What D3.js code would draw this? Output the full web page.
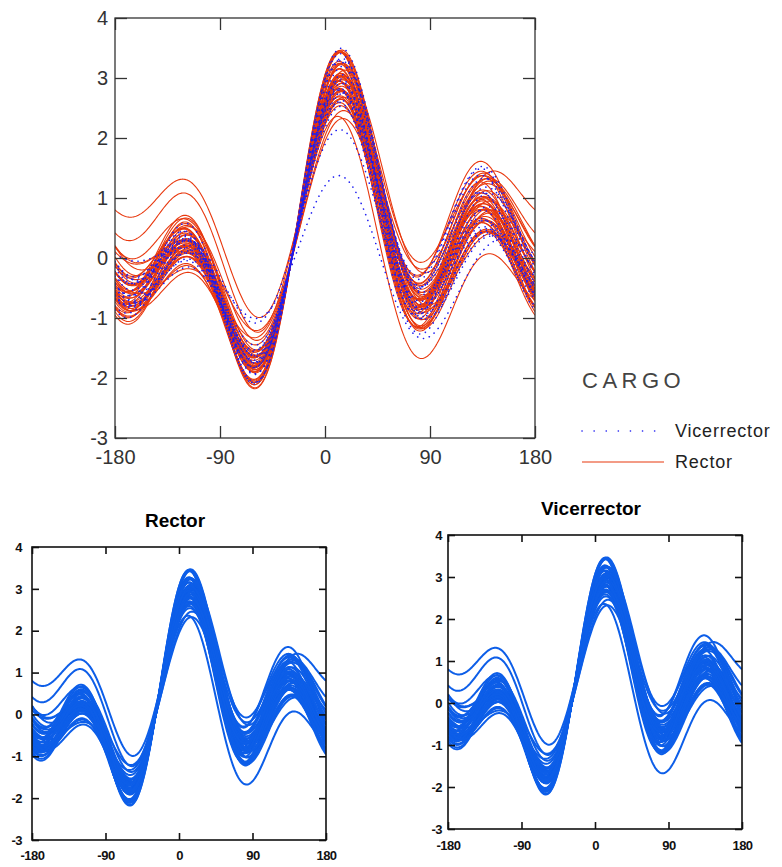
<!DOCTYPE html>
<html>
<head>
<meta charset="utf-8">
<script src="https://cdnjs.cloudflare.com/ajax/libs/d3/7.8.5/d3.min.js"></script>
<style>
  body { margin: 0; background: #fff; }
  svg { display: block; font-family: Arial, "Liberation Sans", sans-serif; }
</style>
</head>
<body>
<svg id="chart" width="782" height="867"></svg>
<script>
// Andrews curves: each row = 7 variables of one observation
// f(t) = x1/sqrt2 + x2 sin t + x3 cos t + x4 sin 2t + x5 cos 2t + x6 sin 3t + x7 cos 3t
var rectorRows = [
  [0.27, 0.58, 0.55, 0.41, 0.82, 0.57, 0.86],
  [0.18, 0.73, 0.73, 0.43, 0.86, 0.60, 0.80],
  [0.41, 0.59, 0.49, 0.45, 0.90, 0.63, 1.10],
  [0.20, 0.80, 0.72, 0.39, 0.78, 0.54, 0.87],
  [0.27, 0.47, 0.55, 0.47, 0.94, 0.66, 0.94],
  [0.21, 0.69, 0.69, 0.44, 0.89, 0.62, 1.18],
  [0.39, 0.41, 0.33, 0.38, 0.75, 0.52, 0.59],
  [0.25, 0.69, 0.71, 0.49, 0.98, 0.68, 1.13],
  [0.21, 0.32, 0.46, 0.42, 0.84, 0.58, 1.08],
  [0.65, 0.88, 0.47, 0.46, 0.92, 0.64, 0.71],
  [0.13, 0.57, 0.62, 0.37, 0.74, 0.51, 0.87],
  [0.28, 0.51, 0.53, 0.43, 0.87, 0.60, 0.76],
  [0.34, 0.84, 0.73, 0.48, 0.97, 0.67, 1.01],
  [0.65, 0.94, 0.45, 0.41, 0.82, 0.57, 0.81],
  [0.16, 0.26, 0.47, 0.43, 0.85, 0.59, 0.94],
  [0.41, 0.70, 0.57, 0.47, 0.93, 0.65, 1.26],
  [0.09, 0.49, 0.63, 0.39, 0.79, 0.55, 0.55],
  [0.68, 0.94, 0.47, 0.45, 0.90, 0.63, 1.13],
  [0.01, 0.51, 0.79, 0.48, 0.95, 0.66, 1.12],
  [0.63, 0.74, 0.32, 0.39, 0.77, 0.54, 0.69],
  [0.04, 0.36, 0.64, 0.44, 0.89, 0.62, 0.85],
  [0.15, 0.69, 0.73, 0.42, 0.84, 0.59, 1.11],
  [0.41, 0.63, 0.52, 0.46, 0.92, 0.64, 0.78],
  [0.11, 0.61, 0.78, 0.49, 0.98, 0.68, 0.93],
  [0.63, 0.81, 0.38, 0.40, 0.80, 0.56, 0.99],
  [0.29, 0.62, 0.59, 0.44, 0.88, 0.61, 0.97],
  [-0.01, 0.44, 0.74, 0.45, 0.89, 0.62, 0.96],
  [0.39, 0.65, 0.50, 0.41, 0.83, 0.58, 0.85],
  [0.22, 0.70, 0.68, 0.43, 0.86, 0.60, 0.98],
  [0.40, 0.58, 0.50, 0.46, 0.93, 0.64, 0.95],
  [0.04, 0.57, 0.71, 0.40, 0.80, 0.55, 0.95],
  [0.49, 0.77, 0.56, 0.48, 0.96, 0.67, 0.87],
  [0.07, 0.41, 0.64, 0.43, 0.87, 0.60, 1.07],
  [0.64, 0.81, 0.43, 0.46, 0.91, 0.63, 1.00],
  [0.05, 0.47, 0.66, 0.41, 0.81, 0.56, 0.77],
  [0.54, 0.93, 0.59, 0.47, 0.94, 0.66, 1.07],
  [0.05, 0.63, 0.80, 0.45, 0.89, 0.62, 0.72],
  [0.36, 0.47, 0.42, 0.42, 0.84, 0.58, 1.13],
  [0.26, 0.65, 0.67, 0.49, 0.98, 0.68, 1.22],
  [0.29, 0.79, 0.67, 0.43, 0.85, 0.59, 0.89],
  [0.98, 0.13, -0.05, 0.41, 0.82, 0.57, 0.76],
  [0.82, 0.28, 0.12, 0.41, 0.82, 0.57, 0.86],
  [-0.15, -0.10, 0.55, 0.41, 0.82, 0.57, 0.86],
  [0.06, 0.30, 0.55, 0.41, 0.82, 0.57, 0.86],
  [0.67, 0.58, 0.25, 0.41, 0.82, 0.57, 0.86]
];

var vicerrectorRows = [
  [0.20, 0.66, 0.67, 0.42, 0.84, 0.59, 0.94],
  [0.33, 0.51, 0.51, 0.45, 0.90, 0.63, 0.85],
  [0.06, 0.53, 0.67, 0.39, 0.78, 0.54, 1.02],
  [0.57, 0.83, 0.51, 0.47, 0.94, 0.66, 0.99],
  [0.05, 0.36, 0.60, 0.41, 0.82, 0.57, 0.71],
  [0.67, 0.90, 0.44, 0.44, 0.89, 0.62, 1.03],
  [0.17, 0.63, 0.63, 0.38, 0.75, 0.52, 0.74],
  [0.32, 0.59, 0.57, 0.46, 0.92, 0.64, 1.21],
  [-0.03, 0.32, 0.66, 0.43, 0.86, 0.60, 0.98],
  [0.48, 0.74, 0.55, 0.48, 0.97, 0.67, 0.82],
  [0.38, 0.73, 0.53, 0.40, 0.80, 0.55, 0.98],
  [0.03, 0.49, 0.73, 0.44, 0.88, 0.61, 0.67],
  [0.62, 0.95, 0.55, 0.47, 0.93, 0.65, 1.10],
  [0.12, 0.55, 0.66, 0.41, 0.83, 0.58, 0.87],
  [0.53, 0.74, 0.46, 0.45, 0.89, 0.62, 0.86],
  [0.05, 0.37, 0.58, 0.39, 0.77, 0.54, 0.91],
  [0.52, 0.85, 0.55, 0.46, 0.91, 0.63, 1.15],
  [0.06, 0.50, 0.69, 0.43, 0.85, 0.59, 0.77],
  [-0.15, -0.06, 0.13, 0.24, 0.74, 0.40, 0.44],
  [0.20, 0.25, 0.45, 0.30, 0.65, 0.45, 0.65]
];

var xTicks = [-180, -90, 0, 90, 180];
var yTicks = [-3, -2, -1, 0, 1, 2, 3, 4];
var groups = ["Vicerrector", "Rector"];
var legendTitle = "CARGO";

var redCol = "#e8380e", dotCol = "#1c1cf2", bottomCol = "#0d5ee8";

// andrews transform, sampled every degree
function andrews(row) {
  var pts = [];
  for (var deg = -180; deg <= 180; deg += 1) {
    var t = deg * Math.PI / 180;
    var v = row[0] / Math.SQRT2 + row[1] * Math.sin(t) + row[2] * Math.cos(t) +
            row[3] * Math.sin(2 * t) + row[4] * Math.cos(2 * t) +
            row[5] * Math.sin(3 * t) + row[6] * Math.cos(3 * t);
    pts.push([deg, v]);
  }
  return pts;
}

var svg = d3.select("#chart");
var fmt = function(d) { return String(d); }; // plain hyphen minus

function panel(box, opts) {
  var x = d3.scaleLinear().domain([-180, 180]).range([box.x0, box.x1]);
  var y = d3.scaleLinear().domain([-3, 4]).range([box.y1, box.y0]);
  var g = svg.append("g");

  g.append("clipPath").attr("id", opts.id)
    .append("rect").attr("x", box.x0).attr("y", box.y0)
    .attr("width", box.x1 - box.x0).attr("height", box.y1 - box.y0);

  var line = d3.line().x(function(d) { return x(d[0]); }).y(function(d) { return y(d[1]); });
  var plot = g.append("g").attr("clip-path", "url(#" + opts.id + ")");

  opts.series.forEach(function(s) {
    plot.append("g").selectAll("path")
      .data(s.rows)
      .enter().append("path")
      .attr("d", function(r) { return line(andrews(r)); })
      .attr("fill", "none")
      .attr("stroke", s.color)
      .attr("stroke-width", s.width)
      .attr("stroke-dasharray", s.dash || null)
      .attr("stroke-linecap", s.dash ? "round" : "butt");
  });

  // axes, MATLAB style ticks inside on all sides
  var tl = opts.tickLen;
  var bottom = d3.axisBottom(x).tickValues(xTicks).tickSizeInner(-tl).tickSizeOuter(0).tickPadding(opts.xPad).tickFormat(fmt);
  var top = d3.axisTop(x).tickValues(xTicks).tickSizeInner(-tl).tickSizeOuter(0).tickFormat("");
  var left = d3.axisLeft(y).tickValues(yTicks).tickSizeInner(-tl).tickSizeOuter(0).tickPadding(opts.yPad).tickFormat(fmt);
  var right = d3.axisRight(y).tickValues(yTicks).tickSizeInner(-tl).tickSizeOuter(0).tickFormat("");

  var ax = [
    g.append("g").attr("transform", "translate(0," + box.y1 + ")").call(bottom),
    g.append("g").attr("transform", "translate(0," + box.y0 + ")").call(top),
    g.append("g").attr("transform", "translate(" + box.x0 + ",0)").call(left),
    g.append("g").attr("transform", "translate(" + box.x1 + ",0)").call(right)
  ];
  ax.forEach(function(a) {
    a.select(".domain").remove();
    a.selectAll("line").attr("stroke", opts.axisCol).attr("stroke-width", opts.axisW);
    a.selectAll("text")
      .attr("fill", opts.axisCol)
      .style("font-size", opts.fontSize + "px")
      .style("font-weight", opts.bold ? "bold" : "normal")
      .style("letter-spacing", opts.bold ? "-0.5px" : "0px")
      .style("font-family", "Arial, 'Liberation Sans', sans-serif");
  });

  g.append("rect")
    .attr("x", box.x0).attr("y", box.y0)
    .attr("width", box.x1 - box.x0).attr("height", box.y1 - box.y0)
    .attr("fill", "none").attr("stroke", opts.axisCol).attr("stroke-width", opts.axisW);

  if (opts.title) {
    g.append("text")
      .attr("x", (box.x0 + box.x1) / 2 - 4)
      .attr("y", box.y0 - opts.titleGap)
      .attr("text-anchor", "middle")
      .style("font-size", "19px").style("font-weight", "bold")
      .text(opts.title);
  }
}

// main chart
panel({x0: 115, x1: 535, y0: 18, y1: 438}, {
  id: "clipMain",
  series: [
    {rows: rectorRows, color: redCol, width: 1.1},
    {rows: vicerrectorRows, color: dotCol, width: 1.6, dash: "0.1,6"}
  ],
  tickLen: 12, xPad: 12, yPad: 7, fontSize: 20, axisCol: "#333", axisW: 1.3
});

// small panels
panel({x0: 32, x1: 326, y0: 547, y1: 840}, {
  id: "clipRector", title: "Rector", titleGap: 20,
  series: [{rows: rectorRows, color: bottomCol, width: 2}],
  tickLen: 7, xPad: 11, yPad: 10, fontSize: 13, bold: true, axisCol: "#111", axisW: 1.6
});
panel({x0: 448, x1: 742, y0: 535, y1: 829}, {
  id: "clipVice", title: "Vicerrector", titleGap: 20,
  series: [{rows: rectorRows, color: bottomCol, width: 2}],
  tickLen: 7, xPad: 12, yPad: 6, fontSize: 13, bold: true, axisCol: "#111", axisW: 1.6
});

// legend
var leg = svg.append("g");
leg.append("text").attr("x", 582).attr("y", 388)
  .style("font-size", "22px").style("letter-spacing", "4.5px")
  .attr("fill", "#444").style("font-weight", "300")
  .text(legendTitle);
var legY = d3.scalePoint().domain(groups).range([431, 462]);
groups.forEach(function(gname) {
  var isVice = gname === "Vicerrector";
  leg.append("line")
    .attr("x1", 582).attr("x2", 664)
    .attr("y1", legY(gname)).attr("y2", legY(gname))
    .attr("stroke", isVice ? dotCol : redCol)
    .attr("stroke-width", isVice ? 1.6 : 1.2)
    .attr("stroke-dasharray", isVice ? "0.1,12" : null)
    .attr("stroke-linecap", isVice ? "round" : "butt");
  leg.append("text").attr("x", 675).attr("y", legY(gname) + 6)
    .style("font-size", "18px").style("letter-spacing", "0.8px").attr("fill", "#222")
    .text(gname);
});
</script>
</body>
</html>
